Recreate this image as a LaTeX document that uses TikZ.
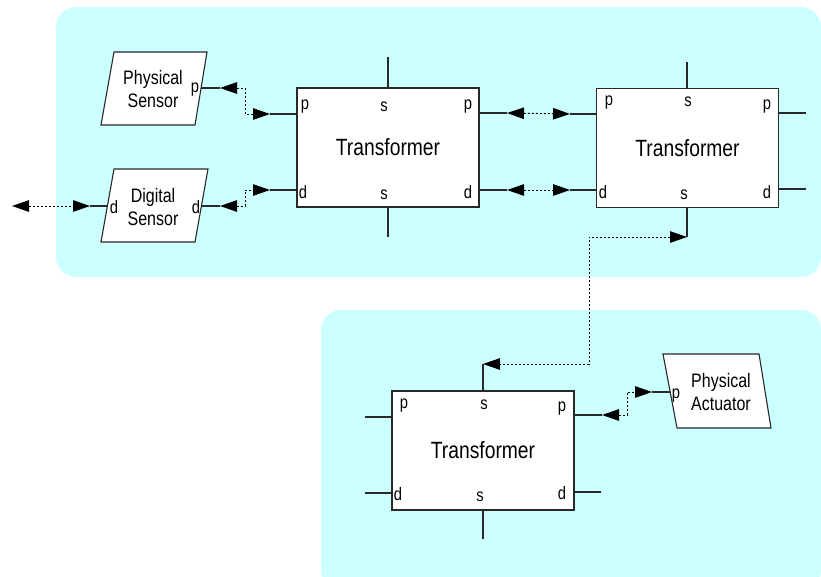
\documentclass[tikz,border=0pt]{standalone}
\usepackage{fontspec}
\setmainfont{Liberation Sans}[FakeStretch=0.82]
\usetikzlibrary{arrows.meta}
\definecolor{panel}{RGB}{204,255,255}
\definecolor{edge}{RGB}{40,40,40}
\tikzset{
  panelbox/.style={fill=panel, draw=none, rounded corners=20pt},
  unit/.style={draw=edge, fill=white, line width=1.1pt, minimum width=182pt, minimum height=119pt, inner sep=0pt, font=\fontsize{23.5}{25}\selectfont},
  device/.style={draw=edge, fill=white, line width=1.1pt, line join=miter},
  devtext/.style={align=center, font=\fontsize{19.5}{23}\selectfont, inner sep=0pt},
  portlbl/.style={font=\fontsize{18}{20}\selectfont, inner sep=0pt},
  stub/.style={draw=edge, line width=1.1pt},
  link/.style={line width=1pt, dash pattern=on 2pt off 2pt,
    {Triangle[length=17pt,width=11.5pt]}-{Triangle[length=17pt,width=11.5pt]}},
}
\begin{document}
\begin{tikzpicture}[x=1pt,y=-1pt]
\useasboundingbox (0,0) rectangle (821,576);

% background panels
\path[panelbox] (56,7) rectangle (821,277);
\path[panelbox] (321,310) rectangle (821,590);

% sensors and actuator
\draw[device] (114,52) -- (207,52) -- (195,125) -- (101,125) -- cycle;
\node[devtext] (pstxt) at (153,89) {Physical\\Sensor};
\node[portlbl] (psp) at (195,90) {p};
\coordinate (psport) at (201,88);

\draw[device] (114,169) -- (208,169) -- (195,242) -- (101,242) -- cycle;
\node[devtext] (dstxt) at (153,207) {Digital\\Sensor};
\node[portlbl] (dsdl) at (114,207) {d};
\node[portlbl] (dsdr) at (196,207) {d};
\coordinate (dsin) at (107,206);
\coordinate (dsout) at (202,206);

\draw[device] (663,354) -- (759,354) -- (771,428) -- (677,428) -- cycle;
\node[devtext] (patxt) at (721,392) {Physical\\Actuator};
\node[portlbl] (pap) at (676,396) {p};
\coordinate (paport) at (670,392);

% transformers
\node[unit] (t1) at (388,147.5) {Transformer};
\node[unit] (t2) at (687.5,148) {Transformer};
\node[unit] (t3) at (483,450.5) {Transformer};

% port letters
\node[portlbl] (t1pl) at (305,107) {p};
\node[portlbl] (t1st) at (384,107) {s};
\node[portlbl] (t1pr) at (468,107) {p};
\node[portlbl] (t1dl) at (303,192) {d};
\node[portlbl] (t1sb) at (384,195) {s};
\node[portlbl] (t1dr) at (468,192) {d};

\node[portlbl] (t2pl) at (609,103) {p};
\node[portlbl] (t2st) at (688,102) {s};
\node[portlbl] (t2pr) at (767,107) {p};
\node[portlbl] (t2dl) at (603,192) {d};
\node[portlbl] (t2sb) at (684,195) {s};
\node[portlbl] (t2dr) at (767,192) {d};

\node[portlbl] (t3pl) at (404,406) {p};
\node[portlbl] (t3st) at (484,405) {s};
\node[portlbl] (t3pr) at (562,409) {p};
\node[portlbl] (t3dl) at (398,494) {d};
\node[portlbl] (t3sb) at (480,497) {s};
\node[portlbl] (t3dr) at (562,493) {d};

% stub ends
\coordinate (psS) at (220,88);
\coordinate (dsLS) at (90,206);
\coordinate (dsRS) at (220,206);
\coordinate (freeL) at (12,206);
\coordinate (t1plS) at (270,114);
\coordinate (t1dlS) at (270,190);
\coordinate (t1prS) at (507,113);
\coordinate (t1drS) at (507,190);
\coordinate (t1stS) at (388,57);
\coordinate (t1sbS) at (388,237);
\coordinate (t2plS) at (570,114);
\coordinate (t2dlS) at (570,190);
\coordinate (t2prS) at (806,113);
\coordinate (t2drS) at (806,189);
\coordinate (t2stS) at (687,62);
\coordinate (t2sbS) at (687,237);
\coordinate (t3plS) at (365,417);
\coordinate (t3dlS) at (365,493);
\coordinate (t3prS) at (602,415);
\coordinate (t3drS) at (601,492);
\coordinate (t3stS) at (483,364);
\coordinate (t3sbS) at (483,539);
\coordinate (paS) at (652,392);

% solid port stubs
\draw[stub] (psport) -- (psS);
\draw[stub] (dsin) -- (dsLS);
\draw[stub] (dsout) -- (dsRS);
\draw[stub] (paport) -- (paS);
\draw[stub] (t1.west |- t1plS) -- (t1plS);
\draw[stub] (t1.west |- t1dlS) -- (t1dlS);
\draw[stub] (t1.east |- t1prS) -- (t1prS);
\draw[stub] (t1.east |- t1drS) -- (t1drS);
\draw[stub] (t1.north -| t1stS) -- (t1stS);
\draw[stub] (t1.south -| t1sbS) -- (t1sbS);
\draw[stub] (t2.west |- t2plS) -- (t2plS);
\draw[stub] (t2.west |- t2dlS) -- (t2dlS);
\draw[stub] (t2.east |- t2prS) -- (t2prS);
\draw[stub] (t2.east |- t2drS) -- (t2drS);
\draw[stub] (t2.north -| t2stS) -- (t2stS);
\draw[stub] (t2.south -| t2sbS) -- (t2sbS);
\draw[stub] (t3.west |- t3plS) -- (t3plS);
\draw[stub] (t3.west |- t3dlS) -- (t3dlS);
\draw[stub] (t3.east |- t3prS) -- (t3prS);
\draw[stub] (t3.east |- t3drS) -- (t3drS);
\draw[stub] (t3.north -| t3stS) -- (t3stS);
\draw[stub] (t3.south -| t3sbS) -- (t3sbS);

% dotted bidirectional links
\draw[link] (psS) -- (245,88) -- (245,114) -- (t1plS);
\draw[link] (dsRS) -- (245,206) -- (245,190) -- (t1dlS);
\draw[link] (freeL) -- (dsLS);
\draw[link] (t1prS) -- (t2plS);
\draw[link] (t1drS) -- (t2dlS);
\draw[link] (t2sbS) -- (589,237) -- (589,364) -- (t3stS);
\draw[link] (t3prS) -- (627,415) -- (627,392) -- (paS);
\end{tikzpicture}
\end{document}
